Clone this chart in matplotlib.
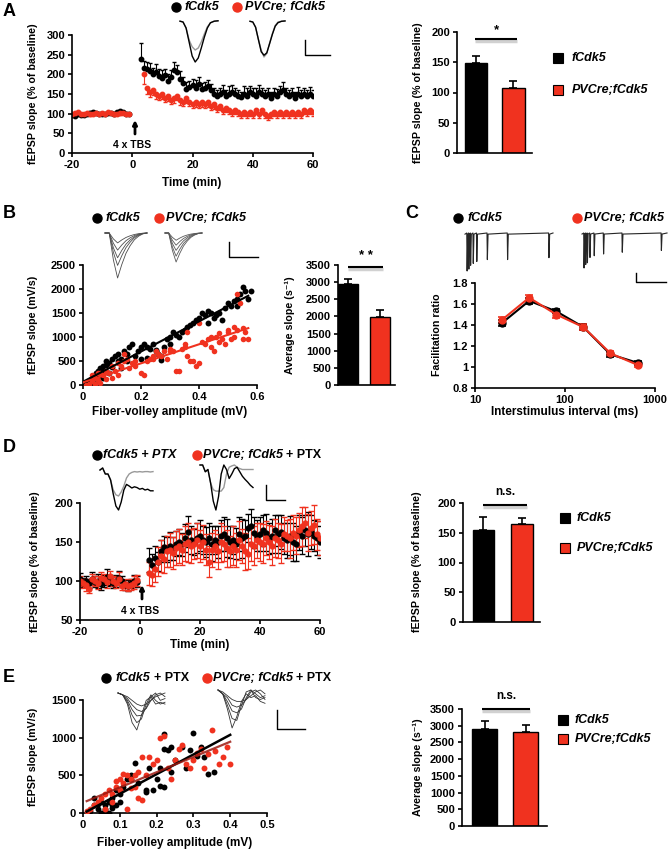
"""Recreation of a multi-panel LTP / input-output figure (panels A-E)"""

import numpy as np
import matplotlib
matplotlib.use("Agg")
import matplotlib.pyplot as plt

plt.rcParams['font.family'] = ['Liberation Sans', 'DejaVu Sans']
plt.rcParams['font.weight'] = 'bold'
plt.rcParams['axes.linewidth'] = 1.2
plt.rcParams['axes.unicode_minus'] = False

BLACK = '#000000'
RED = '#F0321F'

groups = ['fCdk5', 'PVCre;fCdk5']

# ---------------- panel A: LTP time course ----------------
a_base_black = [97, 95, 98, 96, 97, 99, 102, 104, 101, 99, 100, 98, 101, 102, 100, 103, 106, 104, 100, 98]
a_base_red = [100, 102, 103, 100, 98, 101, 99, 100, 102, 100, 101, 100, 103, 101, 99, 100, 101, 102, 100, 99]
a_base_err = [4, 3, 4, 3, 4, 3, 4, 3, 4, 3, 4, 3, 4, 3, 4, 3, 4, 3, 4, 3]
a_post_black = [240, 215, 213, 208, 200, 205, 195, 190, 198, 183,
                192, 210, 205, 188, 178, 162, 168, 172, 165, 175,
                162, 166, 170, 160, 150, 145, 150, 155, 146, 150,
                156, 150, 146, 142, 150, 146, 155, 150, 145, 156,
                150, 145, 150, 140, 150, 145, 155, 160, 150, 145,
                150, 140, 150, 145, 150, 145, 150, 145]
a_post_black_err = [40, 20, 18, 22, 15, 20, 18, 20, 15, 18,
                    20, 22, 18, 20, 15, 18, 15, 16, 20, 18,
                    15, 14, 16, 15, 15, 14, 16, 18, 15, 20,
                    18, 16, 15, 14, 20, 18, 16, 15, 20, 18,
                    15, 16, 14, 15, 16, 18, 15, 20, 16, 15,
                    14, 15, 18, 16, 15, 14, 18, 14]
a_post_red = [200, 165, 155, 160, 150, 145, 150, 140, 145, 135,
              140, 145, 135, 130, 140, 130, 125, 130, 125, 130,
              125, 130, 120, 125, 115, 120, 110, 115, 110, 105,
              110, 105, 100, 105, 100, 105, 100, 110, 100, 110,
              100, 95, 100, 105, 100, 105, 100, 105, 100, 105,
              100, 105, 100, 110, 105, 110, 105]
a_post_red_err = [25, 15, 12, 12, 12, 10, 12, 10, 12, 10,
                  12, 10, 12, 10, 12, 10, 10, 12, 10, 12,
                  10, 12, 10, 12, 10, 10, 10, 12, 10, 10,
                  10, 12, 10, 10, 12, 10, 10, 10, 12, 10,
                  12, 10, 10, 12, 10, 10, 12, 10, 10, 10,
                  10, 12, 10, 10, 12, 10, 10]
a_bar = [148, 108]
a_bar_err = [12, 11]

# ---------------- panel B: input-output ----------------
b_black_x = [0.01, 0.02, 0.025, 0.03, 0.035, 0.04, 0.045, 0.05, 0.05, 0.06, 0.06, 0.07, 0.07, 0.08,
             0.08, 0.09, 0.10, 0.10, 0.11, 0.12, 0.12, 0.13, 0.14, 0.15, 0.16, 0.17, 0.18, 0.19,
             0.20, 0.21, 0.22, 0.23, 0.24, 0.25, 0.26, 0.27, 0.28, 0.29, 0.30, 0.31, 0.32, 0.33,
             0.34, 0.35, 0.36, 0.37, 0.38, 0.39, 0.40, 0.41, 0.42, 0.43, 0.44, 0.45, 0.46, 0.47,
             0.48, 0.49, 0.50, 0.51, 0.52, 0.53, 0.54, 0.55, 0.56, 0.57, 0.58, 0.20, 0.27, 0.22,
             0.03, 0.05, 0.07, 0.09, 0.13, 0.15, 0.25, 0.30, 0.43, 0.53]
b_black_y = [20, 60, 100, 150, 120, 200, 250, 180, 300, 350, 250, 400, 300, 420,
             500, 450, 380, 550, 600, 500, 650, 550, 700, 650, 800, 850, 600, 700,
             800, 850, 800, 750, 850, 700, 650, 600, 800, 950, 1000, 1100, 1050, 1000,
             1100, 1150, 1200, 1250, 1300, 1350, 1400, 1500, 1450, 1550, 1500, 1400, 1450, 1500,
             1350, 1600, 1700, 1650, 1750, 1800, 1900, 2050, 1950, 1800, 1950, 550, 520, 560,
             50, 80, 150, 250, 350, 500, 720, 850, 1300, 1650]
b_red_x = [0.01, 0.02, 0.03, 0.03, 0.04, 0.05, 0.05, 0.06, 0.07, 0.08, 0.09, 0.10, 0.10, 0.11,
           0.12, 0.13, 0.14, 0.15, 0.16, 0.17, 0.18, 0.20, 0.21, 0.22, 0.23, 0.24, 0.25, 0.26,
           0.27, 0.28, 0.29, 0.30, 0.31, 0.32, 0.33, 0.34, 0.35, 0.36, 0.37, 0.38, 0.39, 0.40,
           0.41, 0.42, 0.43, 0.44, 0.45, 0.46, 0.47, 0.48, 0.49, 0.50, 0.51, 0.52, 0.53, 0.53,
           0.54, 0.55, 0.56, 0.57, 0.12, 0.06, 0.14, 0.40, 0.36, 0.02, 0.04, 0.08, 0.18, 0.24,
           0.44, 0.47, 0.50, 0.52, 0.55, 0.30, 0.35]
b_red_y = [0, 30, 80, 200, 150, 250, 100, 50, 200, 300, 250, 400, 150, 300,
           450, 400, 500, 550, 350, 450, 400, 250, 200, 500, 550, 600, 700, 650,
           600, 700, 550, 750, 700, 300, 300, 750, 800, 600, 500, 500, 400, 450,
           900, 850, 950, 800, 700, 1000, 900, 950, 850, 1100, 950, 1000, 1150, 1900,
           1700, 950, 1100, 950, 200, 250, 650, 1300, 1100, 10, 20, 120, 500, 550,
           1000, 1080, 1150, 1200, 1180, 700, 850]
b_bar = [2950, 1990]
b_bar_err = [150, 210]

# ---------------- panel C: paired-pulse facilitation ----------------
c_isi = [20, 40, 80, 160, 320, 640]
c_black = [1.42, 1.63, 1.53, 1.38, 1.12, 1.04]
c_black_err = [0.03, 0.03, 0.02, 0.03, 0.02, 0.02]
c_red = [1.45, 1.66, 1.50, 1.38, 1.13, 1.02]
c_red_err = [0.03, 0.03, 0.03, 0.03, 0.02, 0.02]

# ---------------- panel D: LTP with PTX ----------------
d_base_black = [102, 98, 100, 97, 103, 99, 100, 96, 100, 105, 101, 97, 100, 104, 100, 95, 94, 97, 100, 99]
d_base_black_err = [8, 6, 7, 6, 8, 7, 9, 7, 8, 10, 7, 6, 8, 9, 7, 6, 7, 6, 8, 7]
d_base_red = [100, 97, 95, 90, 102, 100, 98, 104, 103, 99, 106, 100, 98, 103, 94, 96, 93, 95, 98, 101]
d_base_red_err = [7, 6, 8, 5, 7, 6, 8, 7, 6, 8, 7, 6, 7, 8, 6, 7, 6, 7, 8, 7]
d_post_black = [127, 120, 130, 125, 138, 143, 140, 145, 142, 148,
                150, 147, 155, 163, 152, 150, 155, 158, 152, 150,
                155, 148, 153, 150, 158, 160, 155, 150, 152, 148,
                160, 155, 158, 168, 170, 162, 158, 160, 165, 162,
                155, 158, 165, 160, 163, 155, 152, 158, 150, 148,
                162, 158, 165, 160, 163, 158, 155, 150]
d_post_black_err = [15, 14, 15, 12, 14, 15, 16, 18, 15, 16,
                    17, 15, 18, 20, 18, 17, 19, 20, 18, 19,
                    20, 22, 18, 20, 20, 22, 24, 20, 18, 20,
                    22, 25, 20, 18, 22, 20, 20, 22, 20, 24,
                    20, 22, 20, 24, 22, 20, 22, 25, 24, 22,
                    22, 24, 20, 28, 22, 20, 22, 20]
d_post_red = [110, 108, 115, 125, 132, 128, 138, 140, 136, 142,
              145, 140, 148, 150, 145, 148, 152, 145, 150, 140,
              125, 140, 145, 138, 150, 148, 142, 138, 145, 140,
              152, 145, 138, 135, 148, 145, 152, 150, 148, 155,
              150, 145, 155, 152, 148, 160, 158, 155, 162, 158,
              165, 170, 175, 162, 168, 172, 160, 155]
d_post_red_err = [15, 14, 16, 18, 20, 18, 20, 22, 20, 22,
                  22, 20, 22, 25, 22, 20, 22, 20, 22, 20,
                  20, 22, 20, 22, 25, 22, 24, 20, 25, 22,
                  25, 22, 24, 20, 22, 25, 22, 24, 25, 22,
                  22, 25, 24, 22, 25, 22, 20, 25, 22, 24,
                  22, 25, 20, 24, 22, 25, 20, 22]
d_bar = [155, 165]
d_bar_err = [22, 9]

# ---------------- panel E: input-output with PTX ----------------
e_black_x = [0.02, 0.03, 0.03, 0.04, 0.05, 0.05, 0.06, 0.06, 0.07, 0.07, 0.08, 0.08, 0.09, 0.10,
             0.11, 0.12, 0.13, 0.14, 0.15, 0.17, 0.18, 0.19, 0.20, 0.21, 0.21, 0.22, 0.22, 0.23,
             0.24, 0.24, 0.25, 0.27, 0.28, 0.29, 0.30, 0.31, 0.32, 0.33, 0.34, 0.355, 0.22, 0.17,
             0.13, 0.10, 0.09, 0.04, 0.06, 0.08]
e_black_y = [30, 200, 100, 50, 150, 0, 100, 50, 0, 150, 100, 200, 300, 250,
             350, 450, 500, 670, 400, 300, 600, 300, 450, 600, 360, 850, 1050, 830,
             870, 550, 700, 870, 600, 830, 1060, 760, 880, 750, 520, 540, 340, 280,
             450, 150, 100, 120, 20, 60]
e_red_x = [0.01, 0.02, 0.03, 0.04, 0.05, 0.06, 0.07, 0.08, 0.09, 0.10, 0.10, 0.11, 0.12, 0.12,
           0.13, 0.14, 0.15, 0.16, 0.16, 0.17, 0.18, 0.19, 0.20, 0.21, 0.22, 0.23, 0.24, 0.25,
           0.26, 0.27, 0.28, 0.29, 0.30, 0.31, 0.32, 0.33, 0.34, 0.35, 0.36, 0.37, 0.38, 0.39,
           0.40, 0.14, 0.08, 0.06, 0.15, 0.11, 0.09, 0.13]
e_red_y = [20, 50, 100, 150, 200, 250, 300, 250, 350, 450, 300, 400, 500, 50,
           450, 500, 550, 750, 170, 500, 750, 650, 700, 1000, 1020, 600, 450, 700,
           850, 900, 650, 600, 700, 800, 850, 600, 780, 1100, 820, 650, 750, 870,
           650, 350, 150, 50, 200, 520, 420, 330]
e_bar = [2900, 2800]
e_bar_err = [230, 220]

# ---------------- example traces (insets) ----------------
tr_a_t = [0, 0.08, 0.16, 0.24, 0.32, 0.40, 0.48, 0.56, 0.64, 0.72, 0.80, 0.90, 1.0]
tr_a1_black = [0.02, 0.0, -0.15, -0.5, -0.85, -1.0, -0.9, -0.65, -0.38, -0.15, -0.02, 0.02, 0.03]
tr_a1_gray = [0.02, 0.0, -0.15, -0.45, -0.62, -0.7, -0.65, -0.5, -0.3, -0.12, -0.02, 0.02, 0.03]
tr_a2_black = [0.02, 0.0, -0.15, -0.5, -0.85, -0.95, -0.88, -0.62, -0.35, -0.12, -0.02, 0.02, 0.03]
tr_a2_gray = [0.02, 0.0, -0.15, -0.5, -0.8, -1.0, -0.9, -0.6, -0.33, -0.1, 0.0, 0.02, 0.03]

tr_b_t = [0, 0.1, 0.2, 0.3, 0.4, 0.5, 0.6, 0.7, 0.8, 0.9, 1.0]
tr_b_shape = [0, 0, -0.6, -1.0, -0.7, -0.45, -0.28, -0.15, -0.07, -0.02, 0]
tr_b1_amp = [1.0, 0.72, 0.55, 0.38, 0.22]
tr_b2_amp = [1.0, 0.8, 0.6, 0.42, 0.25]

tr_c1_pos = [0.02, 0.04, 0.06, 0.09, 0.13, 0.25, 0.48, 0.95]
tr_c1_depth = [1.0, 0.95, 0.85, 0.8, 0.75, 0.7, 0.7, 0.65]
tr_c2_pos = [0.02, 0.04, 0.06, 0.09, 0.14, 0.25, 0.47, 0.93]
tr_c2_depth = [1.0, 0.9, 0.85, 0.7, 0.65, 0.6, 0.55, 0.5]

tr_d_t = [0, 0.05, 0.1, 0.15, 0.2, 0.25, 0.3, 0.35, 0.4, 0.45, 0.5, 0.55, 0.6, 0.65, 0.7,
          0.75, 0.8, 0.85, 0.9, 0.95, 1.0]
tr_d1_black = [0, 0.05, -0.1, -0.1, -0.25, -0.6, -0.9, -1.0, -0.8, -0.5, -0.36, -0.4, -0.45,
               -0.42, -0.44, -0.48, -0.46, -0.5, -0.48, -0.52, -0.52]
tr_d1_gray = [0, 0.05, -0.1, -0.1, -0.25, -0.5, -0.62, -0.65, -0.55, -0.4, -0.2, -0.1, -0.06,
              -0.04, -0.05, -0.04, -0.05, -0.04, -0.04, -0.05, -0.04]
tr_d2_black = [0, 0.0, -0.15, -0.1, -0.4, -0.8, -1.0, -0.7, -0.2, 0.0, -0.1, -0.3, -0.2,
               -0.08, -0.05, -0.15, -0.25, -0.32, -0.38, -0.45, -0.5]
tr_d2_gray = [0, 0.0, -0.15, -0.1, -0.4, -0.55, -0.58, -0.58, -0.58, -0.5, -0.2, -0.05, -0.02,
              0.0, -0.05, -0.08, -0.1, -0.1, -0.1, -0.1, -0.1]

tr_e_t = [0, 0.1, 0.2, 0.3, 0.4, 0.5, 0.6, 0.7, 0.8, 0.9, 1.0]
tr_e1 = [[0, -0.05, -0.3, -0.8, -1.0, -0.6, -0.2, -0.1, -0.3, -0.25, -0.3],
         [0, -0.05, -0.25, -0.6, -0.8, -0.7, -0.3, -0.05, -0.2, -0.3, -0.25],
         [0, -0.05, -0.2, -0.45, -0.62, -0.6, -0.4, -0.1, 0.0, -0.2, -0.15],
         [0, -0.05, -0.15, -0.32, -0.45, -0.5, -0.42, -0.2, -0.05, 0.0, -0.1],
         [0, -0.05, -0.1, -0.2, -0.3, -0.35, -0.3, -0.2, -0.1, -0.05, 0.0]]
tr_e2 = [[0, -0.1, -0.5, -1.0, -0.7, -0.3, -0.1, -0.2, -0.15, -0.3, -0.35],
         [0, -0.1, -0.4, -0.75, -0.8, -0.4, -0.05, 0.0, -0.2, -0.25, -0.2],
         [0, -0.1, -0.3, -0.55, -0.6, -0.5, -0.2, 0.0, -0.1, -0.2, -0.15],
         [0, -0.1, -0.2, -0.4, -0.45, -0.4, -0.25, -0.05, 0.0, -0.1, -0.25],
         [0, -0.05, -0.15, -0.25, -0.3, -0.3, -0.25, -0.15, -0.05, 0.0, -0.1]]

W, H = 670, 852
fig = plt.figure(figsize=(W / 100, H / 100), dpi=100)


def make_axes(l, t, r, b):
    # axes placed by pixel edges (left, top, right, bottom)
    return fig.add_axes([l / W, 1 - b / H, (r - l) / W, (b - t) / H])


def style(ax):
    ax.spines['top'].set_visible(False)
    ax.spines['right'].set_visible(False)
    ax.tick_params(direction='out', length=3, width=1.2, labelsize=8, pad=2)


def bar_panel(ax, vals, errs, width, ylim, yticks):
    style(ax)
    ax.bar([0, 1], vals, width, color=[BLACK, RED], edgecolor='k', linewidth=1)
    ax.errorbar([0, 1], vals, yerr=[[0, 0], errs], fmt='none', ecolor='k',
                capsize=3, elinewidth=1.2, capthick=1.2)
    ax.set_ylim(*ylim)
    ax.set_yticks(yticks)
    ax.set_xticks([])


# ---- A ----
t_base = np.arange(-20, 0)
axA = make_axes(72, 35, 313, 153)
style(axA)
axA.errorbar(t_base, a_base_black, yerr=[np.zeros(20), a_base_err], fmt='o', ms=3.2,
             color=BLACK, ecolor=BLACK, capsize=1.5, elinewidth=0.8)
axA.errorbar(t_base, a_base_red, yerr=[a_base_err, np.zeros(20)], fmt='o', ms=3.2,
             color=RED, ecolor=RED, capsize=1.5, elinewidth=0.8)
axA.errorbar(np.arange(3, 61), a_post_black, yerr=[np.zeros(58), a_post_black_err], fmt='o',
             ms=3.2, color=BLACK, ecolor=BLACK, capsize=1.5, elinewidth=0.8)
axA.errorbar(np.arange(4, 61), a_post_red, yerr=[a_post_red_err, np.zeros(57)], fmt='o',
             ms=3.2, color=RED, ecolor=RED, capsize=1.5, elinewidth=0.8)
axA.set_xlim(-20, 60)
axA.set_ylim(0, 300)
axA.set_xticks([-20, 0, 20, 40, 60])
axA.set_yticks(range(0, 301, 50))
axA.text(0, 20, '4 x TBS', ha='center', va='center', fontsize=7.5)

axAb = make_axes(457, 32, 532, 153)
bar_panel(axAb, a_bar, a_bar_err, 0.6, (0, 200), range(0, 201, 50))
axAb.set_xlim(-0.5, 1.5)

# ---- B ----
axB = make_axes(83, 265, 257, 385)
style(axB)
axB.scatter(b_black_x, b_black_y, s=18, color=BLACK, zorder=2, linewidths=0)
axB.scatter(b_red_x, b_red_y, s=16, color=RED, zorder=3, linewidths=0)
xfit = np.array([0.0, 0.57])
kb = np.polyfit(b_black_x, b_black_y, 1)
kr = np.polyfit(b_red_x, b_red_y, 1)
axB.plot(xfit, np.polyval(kb, xfit), color=BLACK, lw=1.5, zorder=4)
axB.plot(xfit, np.polyval(kr, xfit), color=RED, lw=1.5, zorder=4)
axB.set_xlim(0, 0.6)
axB.set_ylim(0, 2500)
axB.set_xticks([0, 0.2, 0.4, 0.6])
axB.set_xticklabels(['0', '0.2', '0.4', '0.6'])
axB.set_yticks(range(0, 2501, 500))

axBb = make_axes(338, 265, 395, 385)
bar_panel(axBb, b_bar, b_bar_err, 0.625, (0, 3500), range(0, 3501, 500))
axBb.set_xlim(-0.31, 1.47)

# ---- C ----
axC = make_axes(475, 283, 655, 388)
style(axC)
axC.errorbar(c_isi, c_black, yerr=c_black_err, fmt='-o', ms=5, lw=1.5, color=BLACK,
             capsize=3, elinewidth=1.2, capthick=1.2)
axC.errorbar(c_isi, c_red, yerr=c_red_err, fmt='-o', ms=5, lw=1.5, color=RED,
             capsize=3, elinewidth=1.2, capthick=1.2)
axC.set_xscale('log')
axC.set_xlim(10, 1000)
axC.set_ylim(0.8, 1.8)
axC.set_xticks([10, 100, 1000])
axC.set_xticklabels(['10', '100', '1000'])
axC.minorticks_off()
axC.set_yticks([0.8, 1.0, 1.2, 1.4, 1.6, 1.8])
axC.set_yticklabels(['0.8', '1', '1.2', '1.4', '1.6', '1.8'])

# ---- D ----
axD = make_axes(80, 503, 320, 620)
style(axD)
axD.errorbar(t_base, d_base_black, yerr=d_base_black_err, fmt='o', ms=3.5, color=BLACK,
             ecolor=BLACK, capsize=2, elinewidth=0.8)
axD.errorbar(np.arange(3, 61), d_post_black, yerr=d_post_black_err, fmt='o', ms=3.5,
             color=BLACK, ecolor=BLACK, capsize=2, elinewidth=0.8)
axD.errorbar(t_base, d_base_red, yerr=d_base_red_err, fmt='o', ms=3.5, color=RED,
             ecolor=RED, capsize=2, elinewidth=0.8)
axD.errorbar(np.arange(3, 61), d_post_red, yerr=d_post_red_err, fmt='o', ms=3.5,
             color=RED, ecolor=RED, capsize=2, elinewidth=0.8)
axD.set_xlim(-20, 60)
axD.set_ylim(50, 200)
axD.set_xticks([-20, 0, 20, 40, 60])
axD.set_yticks([50, 100, 150, 200])
axD.text(0, 61, '4 x TBS', ha='center', va='center', fontsize=7.5)

axDb = make_axes(463, 503, 540, 622)
bar_panel(axDb, d_bar, d_bar_err, 0.56, (0, 200), range(0, 201, 50))
axDb.set_xlim(-0.53, 1.47)

# ---- E ----
axE = make_axes(83, 700, 267, 813)
style(axE)
axE.scatter(e_black_x, e_black_y, s=18, color=BLACK, zorder=2, linewidths=0)
axE.scatter(e_red_x, e_red_y, s=18, color=RED, zorder=3, linewidths=0)
xfit_e = np.array([0.01, 0.40])
ke_b = np.polyfit(e_black_x, e_black_y, 1)
ke_r = np.polyfit(e_red_x, e_red_y, 1)
axE.plot(xfit_e, np.polyval(ke_b, xfit_e), color=BLACK, lw=1.8, zorder=4)
axE.plot(xfit_e, np.polyval(ke_r, xfit_e), color='#9A1A12', lw=1.6, alpha=0.85, zorder=5)
axE.set_xlim(0, 0.5)
axE.set_ylim(0, 1500)
axE.set_xticks([0, 0.1, 0.2, 0.3, 0.4, 0.5])
axE.set_xticklabels(['0', '0.1', '0.2', '0.3', '0.4', '0.5'])
axE.set_yticks([0, 500, 1000, 1500])

axEb = make_axes(462, 709, 547, 826)
bar_panel(axEb, e_bar, e_bar_err, 0.61, (0, 3500), range(0, 3501, 500))
axEb.set_xlim(-0.55, 1.52)

# ---------------- overlay: labels, legends, insets ----------------
ov = fig.add_axes([0, 0, 1, 1])
ov.set_xlim(0, W)
ov.set_ylim(H, 0)
ov.axis('off')
renderer = fig.canvas.get_renderer()

# panel letters
for letter, x, y in [('A', 3, 11), ('B', 3, 214), ('C', 405, 214), ('D', 3, 447), ('E', 3, 677)]:
    ov.text(x, y, letter, fontsize=13, fontweight='bold', ha='left', va='center')

# stimulation arrows
for x, ytip, ybase in [(135, 120, 134), (142, 585, 599)]:
    ov.annotate('', xy=(x, ytip), xytext=(x, ybase),
                arrowprops=dict(arrowstyle='-|>', color='k', lw=2, mutation_scale=6,
                                shrinkA=0, shrinkB=0))

# axis labels
ylab = [(33, 94, 'fEPSP slope (% of baseline)'), (418, 93, 'fEPSP slope (% of baseline)'),
        (33, 325, 'fEPSP slope (mV/s)'), (290, 325, 'Average slope (s⁻¹)'),
        (437, 335, 'Facilitation ratio'), (35, 562, 'fEPSP slope (% of baseline)'),
        (417, 562, 'fEPSP slope (% of baseline)'), (33, 757, 'fEPSP slope (mV/s)'),
        (418, 767, 'Average slope (s⁻¹)')]
for x, y, s in ylab:
    ov.text(x, y, s, rotation=90, ha='center', va='center', fontsize=7.7)
xlab = [(192, 183, 'Time (min)'), (170, 412, 'Fiber-volley amplitude (mV)'),
        (565, 412, 'Interstimulus interval (ms)'), (200, 645, 'Time (min)'),
        (175, 843, 'Fiber-volley amplitude (mV)')]
for x, y, s in xlab:
    ov.text(x, y, s, ha='center', va='center', fontsize=8.5)


# top legends (dot + label pieces placed one after another)
def dot_label(x, y, color, tx, parts):
    ov.plot([x], [y], 'o', ms=6.5, color=color)
    for txt, style_ in parts:
        t = ov.text(tx, y, txt, ha='left', va='center', fontsize=9, fontstyle=style_)
        bb = t.get_window_extent(renderer)
        tx = ov.transData.inverted().transform((bb.x1, bb.y0))[0] + 3


dot_label(176, 7, BLACK, 185, [('fCdk5', 'italic')])
dot_label(237, 7, RED, 245, [('PVCre; fCdk5', 'italic')])
dot_label(97, 218, BLACK, 106, [('fCdk5', 'italic')])
dot_label(159, 218, RED, 166, [('PVCre; fCdk5', 'italic')])
dot_label(458, 218, BLACK, 468, [('fCdk5', 'italic')])
dot_label(577, 218, RED, 584, [('PVCre; fCdk5', 'italic')])
dot_label(97, 455, BLACK, 103, [('fCdk5 + PTX', 'italic')])
dot_label(197, 455, RED, 203, [('PVCre; fCdk5', 'italic'), ('+ PTX', 'normal')])
dot_label(106, 678, BLACK, 116, [('fCdk5', 'italic'), ('+ PTX', 'normal')])
dot_label(207, 678, RED, 213, [('PVCre; fCdk5', 'italic'), ('+ PTX', 'normal')])

# bar legends (square + italic label)
for sx, ys, tx in [(558, (58, 90), 572), (565, (518, 548), 577), (563, (720, 739), 575)]:
    for y, color, name in zip(ys, [BLACK, RED], groups):
        ov.plot([sx], [y], 's', ms=7, mfc=color, mec='k', mew=0.8)
        ov.text(tx, y, name, ha='left', va='center', fontsize=9, fontstyle='italic')

# significance markers
for x1, x2, y, mark, ty in [(475, 517, 39, '*', 30), (348, 383, 267, '* *', 256),
                            (483, 527, 505, 'n.s.', 492), (482, 530, 709, 'n.s.', 696)]:
    ov.plot([x1, x2], [y + 2, y + 2], color='0.82', lw=2.5, solid_capstyle='butt')
    ov.plot([x1, x2], [y, y], color='k', lw=1.5, solid_capstyle='butt')
    ov.text((x1 + x2) / 2, ty, mark, ha='center', va='center', fontsize=9.5 if '*' in mark else 8.5)

# scale bars
for x, y1, y2, x2 in [(305, 40, 55, 330), (229, 242, 257, 258), (636, 273, 282, 666),
                      (266, 485, 500, 285), (277, 710, 729, 305)]:
    ov.plot([x, x, x2], [y1, y2, y2], color='k', lw=1)


def trace(x0, y0, w, h, tt, vv, **kw):
    ov.plot(x0 + np.asarray(tt) * w, y0 - np.asarray(vv) * h, **kw)


# A traces
trace(180, 22, 38, 40, tr_a_t, tr_a1_gray, color='0.6', lw=1)
trace(180, 22, 38, 40, tr_a_t, tr_a1_black, color='k', lw=1)
trace(250, 22, 35, 35, tr_a_t, tr_a2_gray, color='0.6', lw=1)
trace(250, 22, 35, 35, tr_a_t, tr_a2_black, color='k', lw=1)

# B traces
for amp in tr_b1_amp:
    trace(105, 233, 42, 45, tr_b_t, np.array(tr_b_shape) * amp, color='0.3', lw=0.6)
for amp in tr_b2_amp:
    trace(165, 233, 37, 29, tr_b_t, np.array(tr_b_shape) * amp, color='0.35', lw=0.6)


# C traces (spike trains)
def spikes(x0, y0, w, h, pos, depth):
    xs, ys = [0.0], [-0.03]
    for p, d in zip(pos, depth):
        xs += [p, p + 0.004, p + 0.012]
        ys += [0.0, -d, -0.03]
    xs.append(1.0)
    ys.append(0.0)
    trace(x0, y0, w, h, xs, ys, color='0.15', lw=0.8)


spikes(465, 233, 88, 38, tr_c1_pos, tr_c1_depth)
spikes(582, 233, 85, 35, tr_c2_pos, tr_c2_depth)

# D traces
trace(100, 470, 53, 40, tr_d_t, tr_d1_gray, color='0.6', lw=1)
trace(100, 470, 53, 40, tr_d_t, tr_d1_black, color='k', lw=1)
trace(200, 465, 53, 45, tr_d_t, tr_d2_gray, color='0.6', lw=1)
trace(200, 465, 53, 45, tr_d_t, tr_d2_black, color='k', lw=1)

# E traces
for curve in tr_e1:
    trace(118, 693, 47, 37, tr_e_t, curve, color='0.2', lw=0.6)
for curve in tr_e2:
    trace(218, 690, 47, 38, tr_e_t, curve, color='0.2', lw=0.6)

plt.savefig('out.png', dpi=100)
